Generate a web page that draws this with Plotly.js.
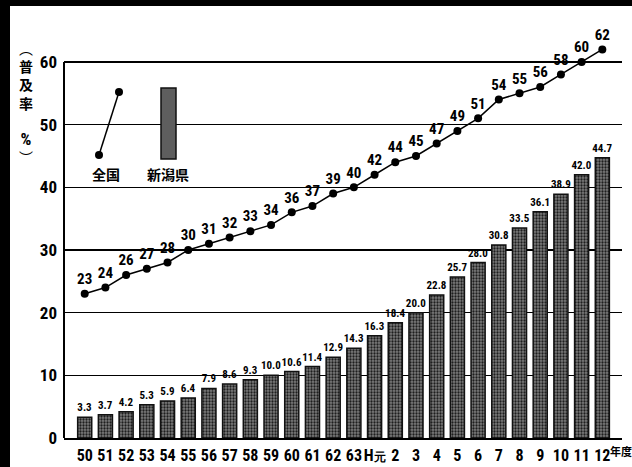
<!DOCTYPE html>
<html><head><meta charset="utf-8">
<script src="https://cdn.plot.ly/plotly-3.0.1.min.js"></script>
<style>html,body{margin:0;padding:0;background:#fff}#c{width:632px;height:467px}</style>
</head><body><div id="c"></div>
<script>
const years = ['50','51','52','53','54','55','56','57','58','59','60','61','62','63','H元','2','3','4','5','6','7','8','9','10','11','12'];
const national = [23,24,26,27,28,30,31,32,33,34,36,37,39,40,42,44,45,47,49,51,54,55,56,58,60,62];
const niigata = [3.3,3.7,4.2,5.3,5.9,6.4,7.9,8.6,9.3,10.0,10.6,11.4,12.9,14.3,16.3,18.4,20.0,22.8,25.7,28.0,30.8,33.5,36.1,38.9,42.0,44.7];
const yTicks = [0,10,20,30,40,50,60];

const idx = years.map((_, i) => i);
const cond = 'Roboto Condensed';
const cjk = 'Noto Sans CJK JP';
const tickText = years.map(s => s.replace('元', '<span style="font-size:12px">元</span>'));

const traces = [
  {
    type: 'bar', x: idx, y: niigata,
    text: niigata.map(v => v.toFixed(1)), textposition: 'outside', constraintext: 'none',
    textfont: {family: cond, size: 11, color: '#000', weight: 'bold'},
    cliponaxis: false, width: 0.68,
    marker: {color: '#5e5e5e', line: {color: '#111', width: 1.5},
      pattern: {shape: '.', fgcolor: '#1e1e1e', bgcolor: '#7c7c7c', size: 3, solidity: 0.45}},
    hoverinfo: 'skip', showlegend: false
  },
  {
    type: 'scatter', mode: 'lines+markers+text', x: idx, y: national,
    text: national.map(String), textposition: 'top center',
    textfont: {family: cond, size: 15, color: '#000', weight: 'bold'},
    line: {color: '#000', width: 1.5}, marker: {color: '#000', size: 8},
    cliponaxis: false, hoverinfo: 'skip', showlegend: false
  }
];

const L = 64, R = 10, T = 40, B = 29, W = 632, H = 467;
const pw = W - L - R, ph = H - T - B;
const px = x => (x - L) / pw;
const py = y => (H - B - y) / ph;
const note = (x, y, text, font) => ({xref: 'paper', yref: 'paper', x: px(x), y: py(y), xanchor: 'center', yanchor: 'middle', text, showarrow: false, font});

const layout = {
  width: W, height: H,
  margin: {l: L, r: R, t: T, b: B, pad: 0},
  paper_bgcolor: '#fff', plot_bgcolor: 'rgba(0,0,0,0)',
  showlegend: false,
  xaxis: {
    range: [-1.0, 25.95], tickvals: idx, ticktext: tickText, tickangle: 0,
    showgrid: false, zeroline: false, ticks: '', ticklabelstandoff: 2,
    showline: true, linecolor: '#000', linewidth: 2,
    tickfont: {family: cond, size: 16, color: '#000', weight: 'bold'}
  },
  yaxis: {
    range: [0, 63.5], tickvals: yTicks, ticktext: yTicks.map(String),
    showgrid: true, gridcolor: '#000', gridwidth: 1.3,
    zeroline: false, ticks: '', ticklabelstandoff: 6,
    showline: false,
    tickfont: {family: cond, size: 17, color: '#000', weight: 'bold'}
  },
  bargap: 0.32,
  shapes: [
    {type: 'line', xref: 'paper', yref: 'y', x0: 0, x1: 0, y0: 0, y1: 60, line: {color: '#000', width: 2}},
    {type: 'rect', xref: 'paper', yref: 'paper', x0: px(0), x1: px(10), y0: py(H), y1: py(0), fillcolor: '#000', line: {width: 0}, layer: 'below'},
    {type: 'rect', xref: 'paper', yref: 'paper', x0: px(0), x1: px(W), y0: py(6), y1: py(0), fillcolor: '#000', line: {width: 0}, layer: 'below'},
    {type: 'line', xref: 'paper', yref: 'paper', x0: px(99), y0: py(155), x1: px(119), y1: py(92), line: {color: '#000', width: 1.5}},
    {type: 'circle', xref: 'paper', yref: 'paper', x0: px(95), x1: px(103), y0: py(159), y1: py(151), fillcolor: '#000', line: {width: 0}},
    {type: 'circle', xref: 'paper', yref: 'paper', x0: px(115), x1: px(123), y0: py(96), y1: py(88), fillcolor: '#000', line: {width: 0}},
    {type: 'rect', xref: 'paper', yref: 'paper', x0: px(161), x1: px(176), y0: py(159), y1: py(88), fillcolor: '#5e5e5e', line: {color: '#111', width: 1.5}}
  ],
  annotations: [
    note(106, 174, '全国', {family: cjk, size: 14, color: '#000', weight: 'bold'}),
    note(168, 174, '新潟県', {family: cjk, size: 14, color: '#000', weight: 'bold'}),
    note(26, 103, '︵<br><b>普</b><br><b>及</b><br><b>率</b><br> <br><span style="font-family:Roboto Condensed;font-size:17px"><b>%</b></span><br>︶',
      {family: cjk, size: 14, color: '#000'}),
    note(621, 451, '年度', {family: cjk, size: 11, color: '#000', weight: 'bold'})
  ]
};

Plotly.newPlot('c', traces, layout, {staticPlot: true, displayModeBar: false});
</script></body></html>
